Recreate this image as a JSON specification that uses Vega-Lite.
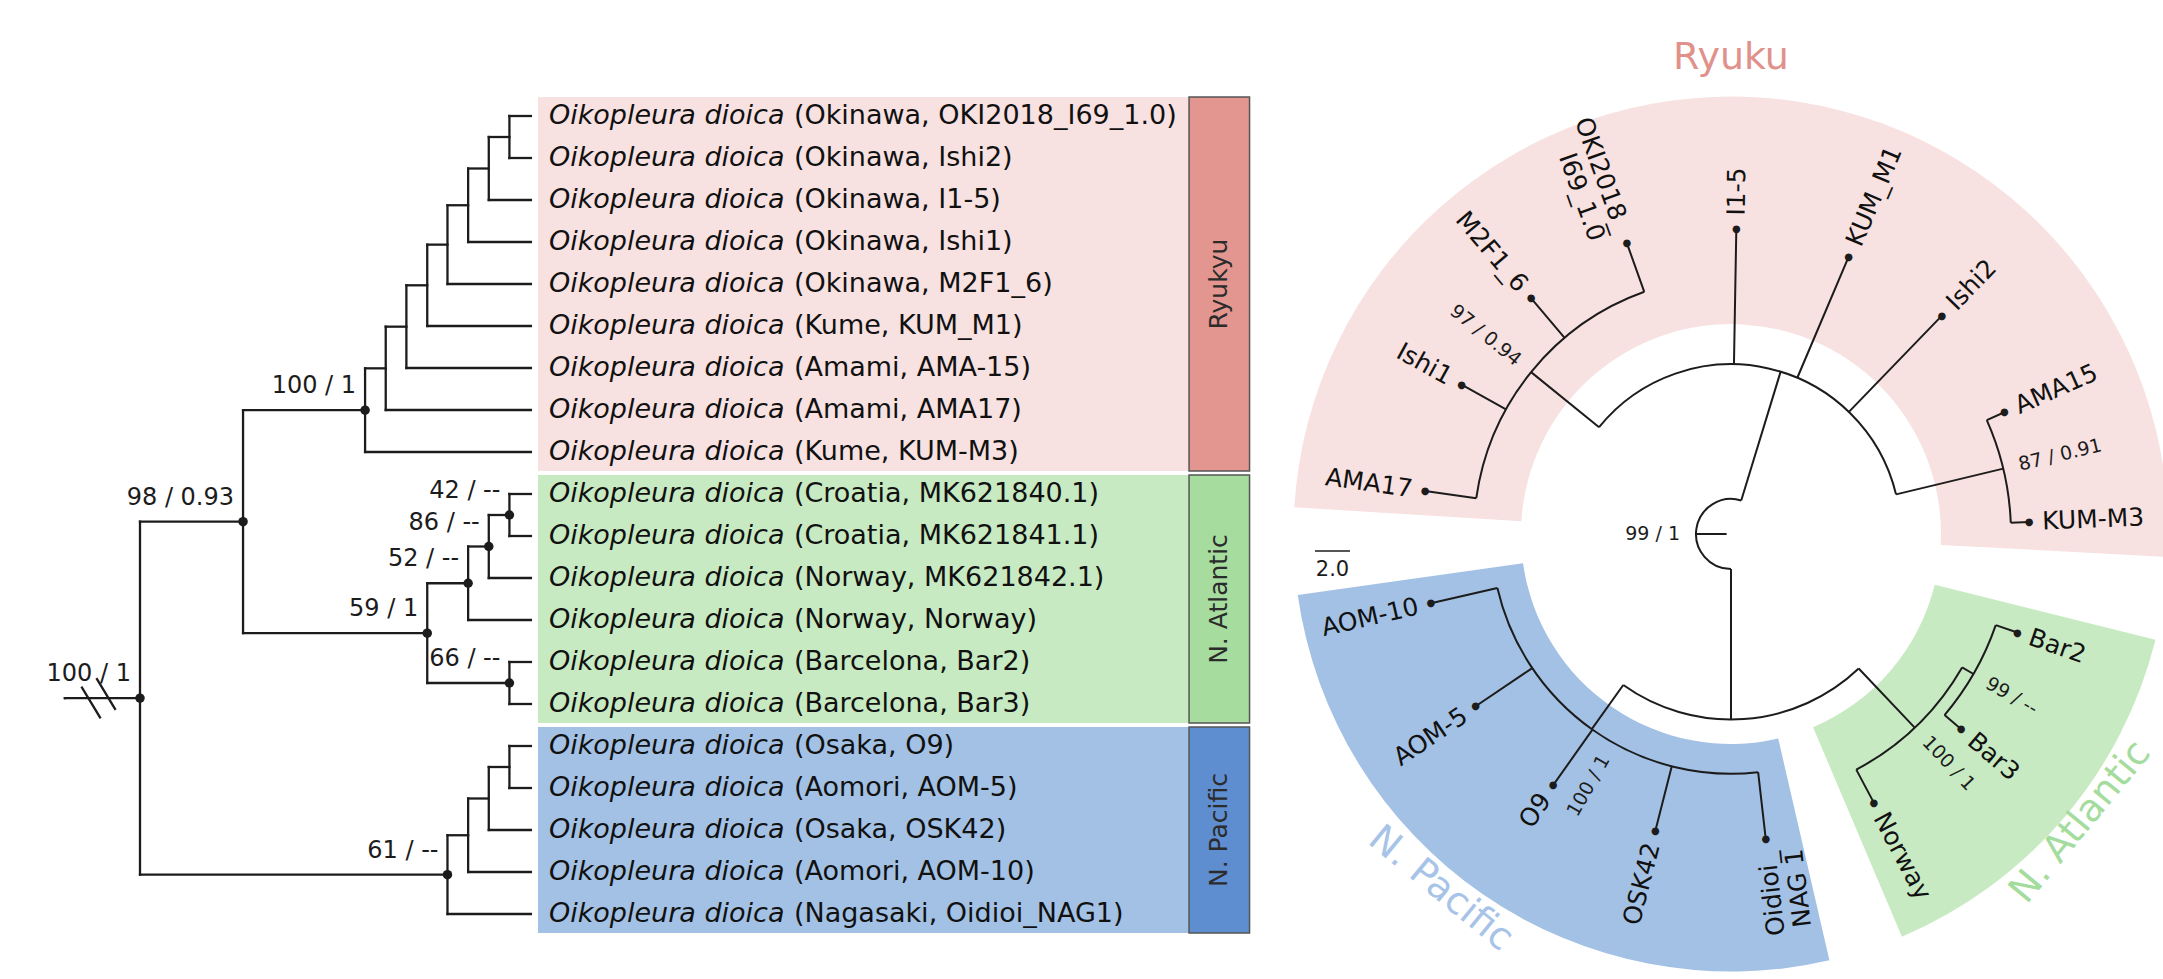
{
  "$schema": "https://vega.github.io/schema/vega-lite/v6.json",
  "width": 2163,
  "height": 979,
  "autosize": {"type": "none"},
  "padding": 0,
  "background": "white",
  "config": {
    "font": "DejaVu Sans",
    "view": {"stroke": null},
    "axis": {"disable": true},
    "legend": {"disable": true}
  },
  "datasets": {
    "left_tree": [
      {"id": "stem", "parent": null, "depth": -3.6, "y": 13.86},
      {"id": "root", "parent": "stem", "depth": 0, "y": 13.86, "support": "100 / 1"},
      {"id": "n98", "parent": "root", "depth": 4.94, "y": 9.658, "support": "98 / 0.93"},
      {"id": "ryukyu", "parent": "n98", "depth": 10.79, "y": 7.004, "support": "100 / 1"},
      {"id": "r7", "parent": "ryukyu", "depth": 11.78, "y": 6.008},
      {"id": "r6", "parent": "r7", "depth": 12.77, "y": 5.016},
      {"id": "r5", "parent": "r6", "depth": 13.77, "y": 4.031},
      {"id": "r4", "parent": "r5", "depth": 14.74, "y": 3.063},
      {"id": "r3", "parent": "r4", "depth": 15.73, "y": 2.125},
      {"id": "r2", "parent": "r3", "depth": 16.72, "y": 1.25},
      {"id": "r1", "parent": "r2", "depth": 17.71, "y": 0.5},
      {"id": "atlantic", "parent": "n98", "depth": 13.77, "y": 12.313, "support": "59 / 1"},
      {"id": "a52", "parent": "atlantic", "depth": 15.73, "y": 11.125, "support": "52 / --"},
      {"id": "a86", "parent": "a52", "depth": 16.72, "y": 10.25, "support": "86 / --"},
      {"id": "a42", "parent": "a86", "depth": 17.71, "y": 9.5, "support": "42 / --"},
      {"id": "a66", "parent": "atlantic", "depth": 17.71, "y": 13.5, "support": "66 / --"},
      {"id": "pacific", "parent": "root", "depth": 14.74, "y": 18.063, "support": "61 / --"},
      {"id": "p3", "parent": "pacific", "depth": 15.73, "y": 17.125},
      {"id": "p2", "parent": "p3", "depth": 16.72, "y": 16.25},
      {"id": "p1", "parent": "p2", "depth": 17.71, "y": 15.5},
      {"id": "OKI2018_I69_1.0", "parent": "r1", "depth": 18.74, "y": 0, "clade": "Ryukyu", "species": "Oikopleura dioica", "label": "(Okinawa, OKI2018_I69_1.0)"},
      {"id": "Ishi2", "parent": "r1", "depth": 18.74, "y": 1, "clade": "Ryukyu", "species": "Oikopleura dioica", "label": "(Okinawa, Ishi2)"},
      {"id": "I1-5", "parent": "r2", "depth": 18.74, "y": 2, "clade": "Ryukyu", "species": "Oikopleura dioica", "label": "(Okinawa, I1-5)"},
      {"id": "Ishi1", "parent": "r3", "depth": 18.74, "y": 3, "clade": "Ryukyu", "species": "Oikopleura dioica", "label": "(Okinawa, Ishi1)"},
      {"id": "M2F1_6", "parent": "r4", "depth": 18.74, "y": 4, "clade": "Ryukyu", "species": "Oikopleura dioica", "label": "(Okinawa, M2F1_6)"},
      {"id": "KUM_M1", "parent": "r5", "depth": 18.74, "y": 5, "clade": "Ryukyu", "species": "Oikopleura dioica", "label": "(Kume, KUM_M1)"},
      {"id": "AMA-15", "parent": "r6", "depth": 18.74, "y": 6, "clade": "Ryukyu", "species": "Oikopleura dioica", "label": "(Amami, AMA-15)"},
      {"id": "AMA17", "parent": "r7", "depth": 18.74, "y": 7, "clade": "Ryukyu", "species": "Oikopleura dioica", "label": "(Amami, AMA17)"},
      {"id": "KUM-M3", "parent": "ryukyu", "depth": 18.74, "y": 8, "clade": "Ryukyu", "species": "Oikopleura dioica", "label": "(Kume, KUM-M3)"},
      {"id": "MK621840.1", "parent": "a42", "depth": 18.74, "y": 9, "clade": "N. Atlantic", "species": "Oikopleura dioica", "label": "(Croatia, MK621840.1)"},
      {"id": "MK621841.1", "parent": "a42", "depth": 18.74, "y": 10, "clade": "N. Atlantic", "species": "Oikopleura dioica", "label": "(Croatia, MK621841.1)"},
      {"id": "MK621842.1", "parent": "a86", "depth": 18.74, "y": 11, "clade": "N. Atlantic", "species": "Oikopleura dioica", "label": "(Norway, MK621842.1)"},
      {"id": "Norway", "parent": "a52", "depth": 18.74, "y": 12, "clade": "N. Atlantic", "species": "Oikopleura dioica", "label": "(Norway, Norway)"},
      {"id": "Bar2", "parent": "a66", "depth": 18.74, "y": 13, "clade": "N. Atlantic", "species": "Oikopleura dioica", "label": "(Barcelona, Bar2)"},
      {"id": "Bar3", "parent": "a66", "depth": 18.74, "y": 14, "clade": "N. Atlantic", "species": "Oikopleura dioica", "label": "(Barcelona, Bar3)"},
      {"id": "O9", "parent": "p1", "depth": 18.74, "y": 15, "clade": "N. Pacific", "species": "Oikopleura dioica", "label": "(Osaka, O9)"},
      {"id": "AOM-5", "parent": "p1", "depth": 18.74, "y": 16, "clade": "N. Pacific", "species": "Oikopleura dioica", "label": "(Aomori, AOM-5)"},
      {"id": "OSK42", "parent": "p2", "depth": 18.74, "y": 17, "clade": "N. Pacific", "species": "Oikopleura dioica", "label": "(Osaka, OSK42)"},
      {"id": "AOM-10", "parent": "p3", "depth": 18.74, "y": 18, "clade": "N. Pacific", "species": "Oikopleura dioica", "label": "(Aomori, AOM-10)"},
      {"id": "Oidioi_NAG1", "parent": "pacific", "depth": 18.74, "y": 19, "clade": "N. Pacific", "species": "Oikopleura dioica", "label": "(Nagasaki, Oidioi_NAG1)"}
    ],
    "circle_tree": [
      {"id": "stem", "parent": null, "theta": 270, "r": 0.25},
      {"id": "root", "parent": "stem", "theta": 270, "r": 2.0},
      {"id": "ryukyu", "parent": "root", "theta": 377, "r": 9.7},
      {"id": "okinawa", "parent": "ryukyu", "theta": 309, "r": 14.7},
      {"id": "AMA17", "parent": "okinawa", "theta": 278, "r": 17.65, "label": "AMA17"},
      {"id": "Ishi1", "parent": "okinawa", "theta": 299, "r": 17.6, "label": "Ishi1"},
      {"id": "M2F1_6", "parent": "okinawa", "theta": 319.7, "r": 17.65, "label": "M2F1_6"},
      {"id": "OKI2018_I69_1.0", "parent": "okinawa", "theta": 340.3, "r": 17.65, "label": "OKI2018_\nI69_1.0"},
      {"id": "I1-5", "parent": "ryukyu", "theta": 361, "r": 17.45, "label": "I1-5"},
      {"id": "KUM_M1", "parent": "ryukyu", "theta": 383, "r": 17.2, "label": "KUM_M1"},
      {"id": "Ishi2", "parent": "ryukyu", "theta": 404, "r": 17.35, "label": "Ishi2"},
      {"id": "amami_kume", "parent": "ryukyu", "theta": 436.5, "r": 16.0},
      {"id": "AMA15", "parent": "amami_kume", "theta": 426, "r": 17.1, "label": "AMA15"},
      {"id": "KUM-M3", "parent": "amami_kume", "theta": 447.7, "r": 17.05, "label": "KUM-M3"},
      {"id": "pac_atl", "parent": "root", "theta": 180, "r": 10.6},
      {"id": "pacific", "parent": "pac_atl", "theta": 215.5, "r": 13.7},
      {"id": "AOM-10", "parent": "pacific", "theta": 257, "r": 17.6, "label": "AOM-10"},
      {"id": "AOM-5", "parent": "pacific", "theta": 236, "r": 17.6, "label": "AOM-5"},
      {"id": "O9", "parent": "pacific", "theta": 215.3, "r": 17.6, "label": "O9"},
      {"id": "OSK42", "parent": "pacific", "theta": 194.3, "r": 17.5, "label": "OSK42"},
      {"id": "Oidioi_NAG1", "parent": "pacific", "theta": 173.5, "r": 17.55, "label": "Oidioi_\nNAG 1"},
      {"id": "atlantic", "parent": "pac_atl", "theta": 136.5, "r": 15.25},
      {"id": "Norway", "parent": "atlantic", "theta": 152, "r": 17.4, "label": "Norway"},
      {"id": "barcelona", "parent": "atlantic", "theta": 120, "r": 16.0},
      {"id": "Bar2", "parent": "barcelona", "theta": 109, "r": 17.3, "label": "Bar2"},
      {"id": "Bar3", "parent": "barcelona", "theta": 130.3, "r": 17.25, "label": "Bar3"}
    ],
    "circle_support": [
      {"node": "okinawa", "support": "97 / 0.94", "theta": 309, "r": 14.7},
      {"node": "amami_kume", "support": "87 / 0.91", "theta": 436.5, "r": 16.0},
      {"node": "pacific", "support": "100 / 1", "theta": 209.5, "r": 13.7},
      {"node": "atlantic", "support": "100 / 1", "theta": 136.5, "r": 15.25},
      {"node": "barcelona", "support": "99 / --", "theta": 120, "r": 16.0},
      {"node": "root", "support": "99 / 1", "theta": 270, "r": 2.0}
    ],
    "clades": [
      {"clade": "Ryukyu", "theta": 273.5, "theta_end": 453},
      {"clade": "N. Atlantic", "theta": 104, "theta_end": 157},
      {"clade": "N. Pacific", "theta": 167, "theta_end": 262}
    ],
    "circle_titles": [
      {"title": "Ryuku", "theta": 360, "r": 27.2},
      {"title": "N. Pacific", "theta": 219.3, "r": 26.2},
      {"title": "N. Atlantic", "theta": 129.5, "r": 25.9}
    ]
  },
  "layer": [
    {
      "encoding": {
        "x": {"field": "depth", "type": "quantitative", "scale": {"domain": [-6.7114, 96.98], "nice": false, "zero": false}, "axis": null},
        "y": {"field": "y", "type": "quantitative", "scale": {"domain": [-2.7619, 20.5476], "reverse": true, "nice": false, "zero": false}, "axis": null}
      },
      "layer": [
        {
          "data": {"name": "left_tree"},
          "transform": [{"filter": "isValid(datum.clade)"}],
          "mark": {"type": "rect", "yOffset": -19, "y2Offset": 19},
          "encoding": {
            "x": {"datum": 19.08, "type": "quantitative", "axis": null},
            "x2": {"datum": 50.29},
            "y": {"aggregate": "min", "field": "y", "type": "quantitative", "axis": null},
            "y2": {"aggregate": "max", "field": "y"},
            "fill": {"field": "clade", "type": "nominal", "scale": {"domain": ["Ryukyu", "N. Atlantic", "N. Pacific"], "range": ["#f8e1e1", "#c8eac2", "#a3c1e4"]}, "legend": null}
          }
        },
        {
          "data": {"name": "left_tree"},
          "transform": [{"filter": "isValid(datum.clade)"}],
          "mark": {"type": "rect", "yOffset": -19, "y2Offset": 19, "stroke": "#555555", "strokeWidth": 1.5},
          "encoding": {
            "x": {"datum": 50.29, "type": "quantitative", "axis": null},
            "x2": {"datum": 53.19},
            "y": {"aggregate": "min", "field": "y", "type": "quantitative", "axis": null},
            "y2": {"aggregate": "max", "field": "y"},
            "color": {"field": "clade", "type": "nominal", "scale": {"domain": ["Ryukyu", "N. Atlantic", "N. Pacific"], "range": ["#e3968f", "#a7dc9f", "#5e8ecf"]}, "legend": null}
          }
        },
        {
          "data": {"name": "left_tree"},
          "transform": [{"filter": "isValid(datum.clade)"}],
          "mark": {"type": "text", "angle": 270, "fontSize": 25, "color": "#2b2b2b", "align": "center", "baseline": "middle"},
          "encoding": {
            "x": {"datum": 51.74, "type": "quantitative", "axis": null},
            "y": {"aggregate": "mean", "field": "y", "type": "quantitative", "axis": null},
            "text": {"field": "clade"}
          }
        },
        {
          "data": {"name": "left_tree"},
          "transform": [{"filter": "isValid(datum.clade)"}],
          "mark": {"type": "text", "align": "left", "baseline": "middle", "dx": 18, "fontSize": 27, "fontStyle": "italic", "color": "#111111"},
          "encoding": {"text": {"field": "species"}}
        },
        {
          "data": {"name": "left_tree"},
          "transform": [{"filter": "isValid(datum.clade)"}],
          "mark": {"type": "text", "align": "left", "baseline": "middle", "dx": 263, "fontSize": 27, "color": "#111111"},
          "encoding": {"text": {"field": "label"}}
        },
        {
          "data": {"name": "left_tree"},
          "transform": [
            {"filter": "isValid(datum.parent)"},
            {"lookup": "parent", "from": {"data": {"name": "left_tree"}, "key": "id", "fields": ["depth"]}, "as": ["parent_depth"]}
          ],
          "mark": {"type": "rule", "strokeWidth": 2.3, "color": "#1c1c1c", "strokeCap": "square"},
          "encoding": {"x2": {"field": "parent_depth"}}
        },
        {
          "data": {"name": "left_tree"},
          "transform": [
            {"filter": "isValid(datum.parent)"},
            {"aggregate": [{"op": "min", "field": "y", "as": "y_lo"}, {"op": "max", "field": "y", "as": "y_hi"}], "groupby": ["parent"]},
            {"lookup": "parent", "from": {"data": {"name": "left_tree"}, "key": "id", "fields": ["depth"]}, "as": ["node_depth"]}
          ],
          "mark": {"type": "rule", "strokeWidth": 2.3, "color": "#1c1c1c", "strokeCap": "square"},
          "encoding": {
            "x": {"field": "node_depth", "type": "quantitative", "axis": null},
            "y": {"field": "y_lo", "type": "quantitative", "axis": null},
            "y2": {"field": "y_hi"}
          }
        },
        {
          "data": {"name": "left_tree"},
          "transform": [{"filter": "isValid(datum.support)"}],
          "mark": {"type": "point", "filled": true, "size": 90, "color": "#1c1c1c", "opacity": 1}
        },
        {
          "data": {"name": "left_tree"},
          "transform": [{"filter": "isValid(datum.support)"}],
          "mark": {"type": "text", "align": "right", "baseline": "middle", "dx": -9, "dy": -24, "fontSize": 24, "color": "#1c1c1c"},
          "encoding": {"text": {"field": "support"}}
        },
        {
          "data": {"values": [{"depth": -2.349, "y": 13.964}, {"depth": -1.63, "y": 13.762}]},
          "mark": {"type": "rule", "strokeWidth": 2.3, "color": "#1c1c1c", "xOffset": -9.6, "x2Offset": 9.6, "yOffset": -15.8, "y2Offset": 15.8},
          "encoding": {"x2": {"field": "depth"}, "y2": {"field": "y"}}
        },
        {
          "data": {"values": [{"depth": 0, "depth_end": 5, "label": "5.0"}]},
          "layer": [
            {
              "mark": {"type": "rule", "strokeWidth": 2.3, "color": "#1c1c1c"},
              "encoding": {
                "x2": {"field": "depth_end"},
                "y": {"datum": 19.13, "type": "quantitative", "axis": null}
              }
            },
            {
              "mark": {"type": "text", "align": "center", "baseline": "middle", "fontSize": 24, "color": "#1c1c1c"},
              "encoding": {
                "x": {"datum": 2.5, "type": "quantitative", "axis": null},
                "y": {"datum": 19.62, "type": "quantitative", "axis": null},
                "text": {"field": "label"}
              }
            }
          ]
        }
      ]
    },
    {
      "encoding": {
        "x": {"datum": 0, "type": "quantitative", "scale": {"domain": [-98.914, 24.686], "nice": false, "zero": false}, "axis": null},
        "y": {"datum": 0, "type": "quantitative", "scale": {"domain": [-25.429, 30.514], "nice": false, "zero": false}, "axis": null}
      },
      "layer": [
        {
          "encoding": {
            "theta": {"field": "theta", "type": "quantitative", "stack": null, "scale": {"domain": [0, 360], "range": [0, 6.283185307179586], "nice": false, "zero": false}}
          },
          "resolve": {"scale": {"angle": "independent"}},
          "layer": [
            {
              "data": {"name": "clades"},
              "mark": {"type": "arc", "stroke": null},
              "encoding": {
                "theta2": {"field": "theta_end"},
                "radius": {"datum": 25.0, "type": "quantitative", "scale": {"type": "linear", "domain": [0, 30], "range": [0, 525], "nice": false, "zero": true}},
                "radius2": {"datum": 12.0},
                "fill": {"field": "clade", "type": "nominal", "scale": {"domain": ["Ryukyu", "N. Atlantic", "N. Pacific"], "range": ["#f8e1e1", "#c8eac2", "#a3c1e4"]}, "legend": null}
              }
            },
            {
              "data": {"name": "circle_titles"},
              "transform": [{"filter": "datum.title == 'Ryuku'"}],
              "mark": {"type": "text", "fontSize": 38, "align": "center", "baseline": "middle", "angle": 0, "color": "#e1918c"},
              "encoding": {
                "radius": {"field": "r", "type": "quantitative", "scale": {"type": "linear", "domain": [0, 30], "range": [0, 525], "nice": false, "zero": true}},
                "text": {"field": "title"}
              }
            },
            {
              "data": {"name": "circle_titles"},
              "transform": [{"filter": "datum.title != 'Ryuku'"}],
              "mark": {"type": "text", "fontSize": 38, "align": "center", "baseline": "middle"},
              "encoding": {
                "radius": {"field": "r", "type": "quantitative", "scale": {"type": "linear", "domain": [0, 30], "range": [0, 525], "nice": false, "zero": true}},
                "text": {"field": "title"},
                "angle": {"field": "theta", "type": "quantitative", "scale": {"domain": [0, 360], "range": [-180, 180], "nice": false, "zero": false}, "legend": null},
                "color": {"field": "title", "type": "nominal", "scale": {"domain": ["N. Pacific", "N. Atlantic"], "range": ["#a7c4e8", "#a3dc9c"]}, "legend": null}
              }
            },
            {
              "data": {"name": "circle_tree"},
              "transform": [
                {"filter": "isValid(datum.parent)"},
                {"aggregate": [{"op": "min", "field": "theta", "as": "theta"}, {"op": "max", "field": "theta", "as": "theta_end"}], "groupby": ["parent"]},
                {"lookup": "parent", "from": {"data": {"name": "circle_tree"}, "key": "id", "fields": ["r"]}, "as": ["r"]}
              ],
              "mark": {"type": "arc", "filled": false, "color": "#1c1c1c", "strokeWidth": 2},
              "encoding": {
                "theta2": {"field": "theta_end"},
                "radius": {"field": "r", "type": "quantitative", "scale": {"type": "linear", "domain": [0, 30], "range": [0, 525], "nice": false, "zero": true}},
                "radius2": {"field": "r"}
              }
            },
            {
              "data": {"name": "circle_tree"},
              "transform": [
                {"filter": "isValid(datum.parent)"},
                {"lookup": "parent", "from": {"data": {"name": "circle_tree"}, "key": "id", "fields": ["r"]}, "as": ["parent_r"]}
              ],
              "mark": {"type": "arc", "filled": false, "color": "#1c1c1c", "strokeWidth": 2},
              "encoding": {
                "theta2": {"field": "theta"},
                "radius": {"field": "r", "type": "quantitative", "scale": {"type": "linear", "domain": [0, 30], "range": [0, 525], "nice": false, "zero": true}},
                "radius2": {"field": "parent_r"}
              }
            },
            {
              "data": {"name": "circle_tree"},
              "transform": [{"filter": "isValid(datum.label)"}],
              "mark": {"type": "text", "text": "●", "fontSize": 10, "align": "center", "baseline": "middle", "color": "#1c1c1c"},
              "encoding": {
                "radius": {"field": "r", "type": "quantitative", "scale": {"type": "linear", "domain": [0, 30], "range": [0, 525], "nice": false, "zero": true}}
              }
            },
            {
              "data": {"name": "circle_tree"},
              "transform": [{"filter": "isValid(datum.label) && datum.theta % 360 < 165"}],
              "mark": {"type": "text", "align": "left", "baseline": "middle", "radiusOffset": 13, "fontSize": 25, "lineBreak": "\n", "color": "#111111"},
              "encoding": {
                "radius": {"field": "r", "type": "quantitative", "scale": {"type": "linear", "domain": [0, 30], "range": [0, 525], "nice": false, "zero": true}},
                "text": {"field": "label"},
                "angle": {"field": "theta", "type": "quantitative", "scale": {"domain": [0, 360], "range": [-90, 270], "nice": false, "zero": false}, "legend": null}
              }
            },
            {
              "data": {"name": "circle_tree"},
              "transform": [{"filter": "isValid(datum.label) && datum.theta % 360 >= 165"}],
              "mark": {"type": "text", "align": "right", "baseline": "middle", "radiusOffset": 13, "fontSize": 25, "lineBreak": "\n", "color": "#111111"},
              "encoding": {
                "radius": {"field": "r", "type": "quantitative", "scale": {"type": "linear", "domain": [0, 30], "range": [0, 525], "nice": false, "zero": true}},
                "text": {"field": "label"},
                "angle": {"field": "theta", "type": "quantitative", "scale": {"domain": [0, 360], "range": [90, 450], "nice": false, "zero": false}, "legend": null}
              }
            },
            {
              "data": {"name": "circle_support"},
              "transform": [{"filter": "datum.theta % 360 < 165"}],
              "mark": {"type": "text", "align": "left", "baseline": "middle", "radiusOffset": 16, "fontSize": 19, "color": "#1c1c1c"},
              "encoding": {
                "radius": {"field": "r", "type": "quantitative", "scale": {"type": "linear", "domain": [0, 30], "range": [0, 525], "nice": false, "zero": true}},
                "text": {"field": "support"},
                "angle": {"field": "theta", "type": "quantitative", "scale": {"domain": [0, 360], "range": [-90, 270], "nice": false, "zero": false}, "legend": null}
              }
            },
            {
              "data": {"name": "circle_support"},
              "transform": [{"filter": "datum.theta % 360 >= 165"}],
              "mark": {"type": "text", "align": "right", "baseline": "middle", "radiusOffset": 16, "fontSize": 19, "color": "#1c1c1c"},
              "encoding": {
                "radius": {"field": "r", "type": "quantitative", "scale": {"type": "linear", "domain": [0, 30], "range": [0, 525], "nice": false, "zero": true}},
                "text": {"field": "support"},
                "angle": {"field": "theta", "type": "quantitative", "scale": {"domain": [0, 360], "range": [90, 450], "nice": false, "zero": false}, "legend": null}
              }
            }
          ]
        },
        {
          "data": {"values": [{"length": "2.0"}]},
          "layer": [
            {
              "mark": {"type": "rule", "strokeWidth": 1.6, "color": "#1c1c1c"},
              "encoding": {
                "x": {"datum": -23.77, "type": "quantitative", "axis": null},
                "x2": {"datum": -21.77},
                "y": {"datum": -0.97, "type": "quantitative", "axis": null}
              }
            },
            {
              "mark": {"type": "text", "align": "center", "baseline": "middle", "fontSize": 21, "color": "#1c1c1c"},
              "encoding": {
                "x": {"datum": -22.77, "type": "quantitative", "axis": null},
                "y": {"datum": -2.06, "type": "quantitative", "axis": null},
                "text": {"field": "length"}
              }
            }
          ]
        }
      ]
    }
  ],
  "resolve": {"scale": {"x": "independent", "y": "independent", "fill": "independent", "color": "independent"}}
}
